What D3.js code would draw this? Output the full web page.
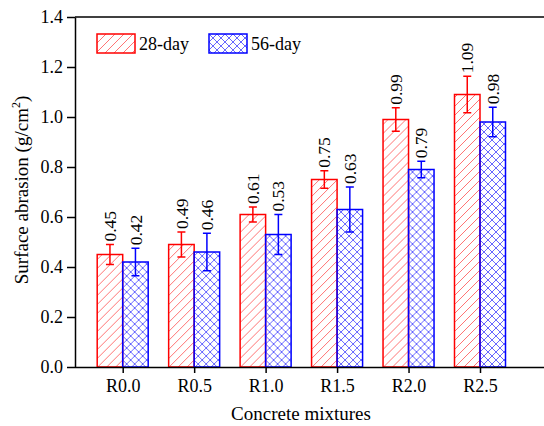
<!DOCTYPE html>
<html lang="en">
<head>
  <meta charset="UTF-8">
  <title>Surface abrasion</title>
  <script src="https://cdn.jsdelivr.net/npm/d3@7"></script>
  <style>
    body { margin: 0; background: #fff; }
    svg text { font-family: "Liberation Serif", "Times New Roman", Times, "DejaVu Serif", serif; }
  </style>
</head>
<body>
<div id="chart"></div>
<script>
  // data
  const mixtures = ['R0.0', 'R0.5', 'R1.0', 'R1.5', 'R2.0', 'R2.5']
  const seriesNames = ['28-day', '56-day']
  const day28 = [0.45, 0.49, 0.61, 0.75, 0.99, 1.09]
  const day28Err = [0.04, 0.05, 0.03, 0.035, 0.047, 0.073]
  const day56 = [0.42, 0.46, 0.53, 0.63, 0.79, 0.98]
  const day56Err = [0.055, 0.075, 0.08, 0.09, 0.033, 0.059]
  const yTicks = [0.0, 0.2, 0.4, 0.6, 0.8, 1.0, 1.2, 1.4]

  const colors = {'28-day': '#ff0000', '56-day': '#0000ff'}

  const width = 544
  const height = 426
  const plotLeft = 75
  const plotTop = 17
  const plotBottom = 367

  const svg = d3.select('#chart').append('svg')
    .attr('width', width)
    .attr('height', height)

  // patterns
  const defs = svg.append('defs')
  const hatch = defs.append('pattern')
    .attr('id', 'hatch28')
    .attr('patternUnits', 'userSpaceOnUse')
    .attr('width', 9).attr('height', 9)
  hatch.append('path')
    .attr('d', 'M-2,11 L11,-2 M-2,2 L2,-2 M7,11 L11,7')
    .attr('stroke', '#ff5050').attr('stroke-width', 0.8)

  const cross = defs.append('pattern')
    .attr('id', 'cross56')
    .attr('patternUnits', 'userSpaceOnUse')
    .attr('width', 8).attr('height', 8)
  cross.append('path')
    .attr('d', 'M-2,10 L10,-2 M-2,2 L2,-2 M6,10 L10,6 M-2,-2 L10,10 M-2,6 L2,10 M6,-2 L10,2')
    .attr('stroke', '#4040ff').attr('stroke-width', 0.8)

  const fills = {'28-day': 'url(#hatch28)', '56-day': 'url(#cross56)'}

  // scales
  const x = d3.scalePoint().domain(mixtures).range([122.7, 480])
  const sub = d3.scaleBand().domain(seriesNames).range([-25.5, 25.5])
  const y = d3.scaleLinear().domain([0, 1.4]).range([plotBottom, plotTop])

  const rows = mixtures.map((m, i) => ({
    m,
    vals: [
      {s: '28-day', v: day28[i], e: day28Err[i]},
      {s: '56-day', v: day56[i], e: day56Err[i]}
    ]
  }))

  // bars
  const groups = svg.append('g').selectAll('g')
    .data(rows)
    .join('g')
    .attr('transform', d => `translate(${x(d.m)},0)`)

  groups.selectAll('rect')
    .data(d => d.vals)
    .join('rect')
    .attr('x', d => sub(d.s))
    .attr('y', d => y(d.v))
    .attr('width', sub.bandwidth())
    .attr('height', d => y(0) - y(d.v))
    .attr('fill', d => fills[d.s])
    .attr('stroke', d => colors[d.s])
    .attr('stroke-width', 1.5)

  // error bars
  const err = groups.selectAll('g.err')
    .data(d => d.vals)
    .join('g')
    .attr('class', 'err')
    .attr('stroke', d => colors[d.s])
    .attr('stroke-width', 1.5)
  const cx = d => sub(d.s) + sub.bandwidth() / 2
  err.append('line')
    .attr('x1', cx).attr('x2', cx)
    .attr('y1', d => y(d.v + d.e)).attr('y2', d => y(d.v - d.e))
  err.append('line')
    .attr('x1', d => cx(d) - 4).attr('x2', d => cx(d) + 4)
    .attr('y1', d => y(d.v + d.e)).attr('y2', d => y(d.v + d.e))
  err.append('line')
    .attr('x1', d => cx(d) - 4).attr('x2', d => cx(d) + 4)
    .attr('y1', d => y(d.v - d.e)).attr('y2', d => y(d.v - d.e))

  // value labels
  groups.selectAll('text.val')
    .data(d => d.vals)
    .join('text')
    .attr('class', 'val')
    .attr('transform', d => `translate(${cx(d)},${y(d.v + d.e) - 3}) rotate(-90)`)
    .attr('dy', '0.35em')
    .attr('font-size', 17.5)
    .attr('fill', '#000')
    .text(d => d.v.toFixed(2))

  // axes
  svg.append('g')
    .attr('transform', `translate(0,${plotBottom})`)
    .call(d3.axisBottom(x).tickSize(6).tickSizeOuter(0).tickPadding(6))
    .call(g => g.select('.domain').attr('d', `M${plotLeft},0.5H${width}`))
    .call(g => g.selectAll('line, path').attr('stroke', '#000').attr('stroke-width', 1.5))
    .call(g => g.selectAll('text').attr('font-size', 18).attr('fill', '#000'))

  svg.append('g')
    .attr('transform', `translate(${plotLeft},0)`)
    .call(d3.axisLeft(y).tickValues(yTicks).tickFormat(d3.format('.1f')).tickSize(8).tickSizeOuter(0).tickPadding(4))
    .call(g => g.selectAll('line, path').attr('stroke', '#000').attr('stroke-width', 1.5))
    .call(g => g.selectAll('text').attr('font-size', 18).attr('fill', '#000'))

  // top frame
  svg.append('line')
    .attr('x1', plotLeft).attr('x2', width)
    .attr('y1', plotTop).attr('y2', plotTop)
    .attr('stroke', '#000').attr('stroke-width', 1.5)

  // axis titles
  svg.append('text')
    .attr('x', 301).attr('y', 420)
    .attr('text-anchor', 'middle')
    .attr('font-size', 19)
    .text('Concrete mixtures')

  const yl = svg.append('text')
    .attr('transform', 'translate(28,190) rotate(-90)')
    .attr('text-anchor', 'middle')
    .attr('font-size', 19)
  yl.append('tspan').text('Surface abrasion (g/cm')
  yl.append('tspan').attr('dy', -8).attr('font-size', 12).text('2')
  yl.append('tspan').attr('dy', 8).text(')')

  // legend
  const legend = svg.append('g')
    .selectAll('g')
    .data(seriesNames)
    .join('g')
    .attr('transform', (d, i) => `translate(${97 + i * 112},34)`)
  legend.append('rect')
    .attr('width', 38).attr('height', 19)
    .attr('fill', d => fills[d])
    .attr('stroke', d => colors[d])
    .attr('stroke-width', 1.5)
  legend.append('text')
    .attr('x', 42).attr('y', 15.5)
    .attr('font-size', 18)
    .text(d => d)
</script>
</body>
</html>
